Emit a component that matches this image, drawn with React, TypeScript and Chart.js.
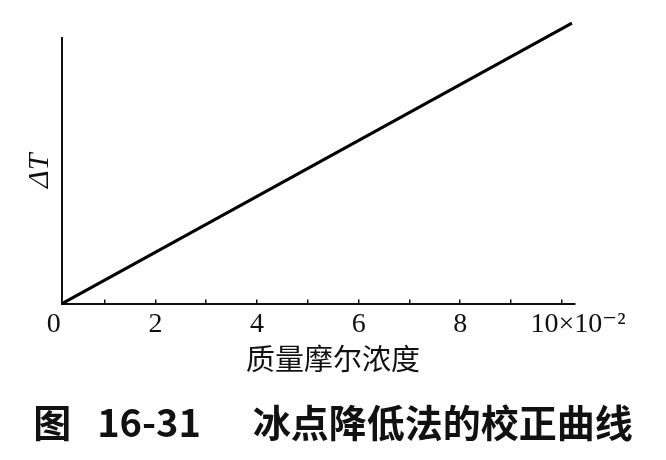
import React, { useEffect, useRef } from "react";
import { Chart, registerables } from "chart.js";

Chart.register(...registerables);

// ---- data ----
const concentration = [0.16, 10.2]; // 质量摩尔浓度 (×10^-2)
const deltaT = [0, 10.56]; // ΔT (arbitrary units, no ticks shown)
const tickValues = [0, 1, 2, 3, 4, 5, 6, 7, 8, 9, 10, 10.32];
const tickLabels = ["0", "", "2", "", "4", "", "6", "", "8", "", "", "10×10⁻²"];
const xTitle = "质量摩尔浓度";
const yTitle = "ΔT";
const caption = "图   16-31      冰点降低法的校正曲线";

const serif = "'Liberation Serif', 'DejaVu Serif', serif";
const cjk = "'Noto Sans CJK SC', sans-serif";
const ink = "#111";

export default function App() {
  const ref = useRef<HTMLCanvasElement | null>(null);

  useEffect(() => {
    if (!ref.current) return;
    const chart = new Chart(ref.current, {
      type: "line",
      data: {
        datasets: [
          {
            data: concentration.map((c, i) => ({ x: c, y: deltaT[i] })),
            borderColor: "#000",
            borderWidth: 3,
            pointRadius: 0,
            tension: 0,
            clip: false as any,
          },
        ],
      },
      options: {
        animation: false,
        responsive: false,
        devicePixelRatio: 1,
        layout: { padding: { left: 8, right: 8, top: 38, bottom: 15 } },
        plugins: {
          legend: { display: false },
          tooltip: { enabled: false },
          subtitle: {
            display: true,
            text: xTitle,
            position: "bottom",
            color: ink,
            font: { family: cjk, size: 29, weight: "normal" },
            padding: { top: 5, bottom: 0 },
          },
          title: {
            display: true,
            text: caption,
            position: "bottom",
            color: ink,
            font: { family: cjk, size: 38, weight: "bold" },
            padding: { top: 23, bottom: 0 },
          },
        },
        scales: {
          x: {
            type: "linear",
            position: "bottom",
            min: 0.16,
            max: 10.26,
            afterBuildTicks: (scale: any) => {
              scale.ticks = tickValues.map((v) => ({ value: v }));
            },
            afterFit: (scale: any) => {
              scale.height = 33;
            },
            ticks: {
              autoSkip: false,
              maxRotation: 0,
              padding: 8,
              color: ink,
              font: { family: serif, size: 28 },
              callback: (_v: any, i: number) => tickLabels[i],
            },
            grid: {
              display: true,
              drawOnChartArea: false,
              drawTicks: true,
              tickLength: -4,
              lineWidth: 1.5,
              color: (ctx: any) =>
                ctx.tick && (ctx.tick.value === 0 || ctx.tick.value > 10)
                  ? "rgba(0,0,0,0)"
                  : ink,
            },
            border: { display: true, color: ink, width: 2 },
          },
          y: {
            type: "linear",
            position: "left",
            min: 0,
            max: 10,
            afterFit: (scale: any) => {
              scale.width = 54;
            },
            ticks: { display: false },
            grid: { display: false },
            border: { display: true, color: ink, width: 2 },
            title: {
              display: true,
              text: yTitle,
              color: ink,
              font: { family: serif, size: 30, style: "italic" },
              padding: { top: 14, bottom: 4 },
            },
          },
          yRight: {
            type: "linear",
            position: "right",
            display: true,
            afterFit: (scale: any) => {
              scale.width = 83;
            },
            ticks: { display: false },
            grid: { display: false },
            border: { display: false },
          },
        },
      },
    } as any);
    return () => chart.destroy();
  }, []);

  return (
    <div
      style={{
        position: "absolute",
        left: 0,
        top: 0,
        width: 666,
        height: 460,
        background: "#fff",
      }}
    >
      <canvas ref={ref} width={666} height={460} style={{ display: "block" }} />
    </div>
  );
}
